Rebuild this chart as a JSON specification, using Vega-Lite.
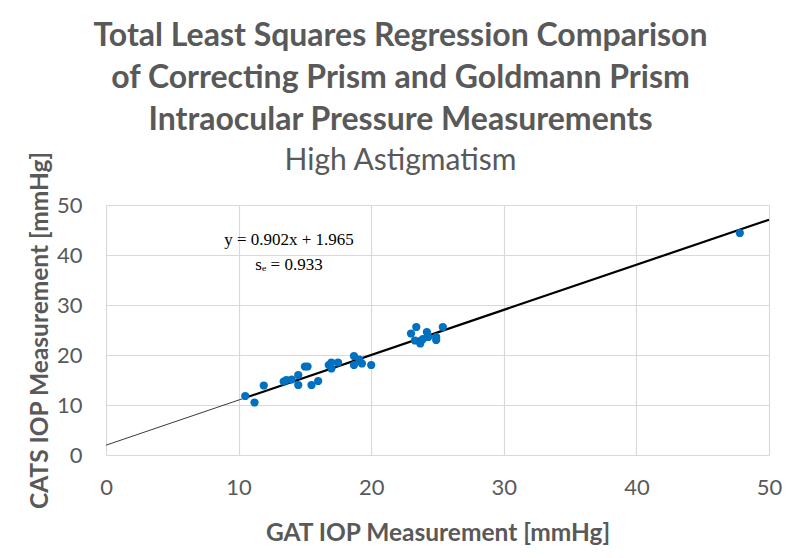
{
  "$schema": "https://vega.github.io/schema/vega-lite/v6.json",
  "autosize": "none",
  "width": 663,
  "height": 250,
  "padding": {"left": 106, "top": 205, "right": 31, "bottom": 103},
  "background": "white",
  "title": {
    "text": ["Total Least Squares Regression Comparison", "of Correcting Prism and Goldmann Prism", "Intraocular Pressure Measurements"],
    "subtitle": "High Astigmatism",
    "anchor": "middle",
    "frame": "group",
    "dx": -37,
    "offset": -26,
    "font": "Lato",
    "fontSize": 32,
    "fontWeight": "bold",
    "color": "#595959",
    "lineHeight": 42,
    "subtitleFont": "Lato",
    "subtitleFontSize": 30,
    "subtitleColor": "#595959",
    "subtitleFontWeight": "normal",
    "subtitlePadding": 9
  },
  "datasets": {
    "points": [
      {"gat": 10.5, "cats": 11.8},
      {"gat": 11.2, "cats": 10.5},
      {"gat": 11.9, "cats": 13.9},
      {"gat": 13.4, "cats": 14.7},
      {"gat": 13.6, "cats": 15.0},
      {"gat": 14.0, "cats": 15.1},
      {"gat": 14.5, "cats": 16.0},
      {"gat": 14.5, "cats": 14.0},
      {"gat": 15.0, "cats": 17.7},
      {"gat": 15.2, "cats": 17.7},
      {"gat": 15.5, "cats": 14.0},
      {"gat": 16.0, "cats": 14.8},
      {"gat": 16.8, "cats": 18.0},
      {"gat": 17.0, "cats": 18.5},
      {"gat": 17.0, "cats": 17.3},
      {"gat": 17.5, "cats": 18.5},
      {"gat": 18.7, "cats": 19.8},
      {"gat": 18.7, "cats": 18.0},
      {"gat": 19.1, "cats": 19.1},
      {"gat": 19.3, "cats": 18.3},
      {"gat": 20.0, "cats": 18.0},
      {"gat": 23.0, "cats": 24.3},
      {"gat": 23.4, "cats": 25.6},
      {"gat": 23.3, "cats": 22.9},
      {"gat": 23.7, "cats": 22.3},
      {"gat": 23.9, "cats": 23.2},
      {"gat": 24.2, "cats": 24.6},
      {"gat": 24.3, "cats": 23.6},
      {"gat": 24.9, "cats": 23.6},
      {"gat": 24.9, "cats": 23.0},
      {"gat": 25.4, "cats": 25.6},
      {"gat": 47.8, "cats": 44.4}
    ],
    "fitExt": [
      {"gat": 0, "cats": 1.965},
      {"gat": 10.5, "cats": 11.436}
    ],
    "fit": [
      {"gat": 10.5, "cats": 11.436},
      {"gat": 50, "cats": 47.065}
    ],
    "labels": [
      {"gat": 13.8, "cats": 43.0, "label": "y = 0.902x + 1.965"},
      {"gat": 13.8, "cats": 38.0, "label": "sₑ = 0.933"}
    ]
  },
  "config": {
    "view": {"stroke": null},
    "axis": {
      "labelFont": "Lato",
      "labelFontSize": 22,
      "labelColor": "#595959",
      "titleFont": "Lato",
      "titleFontSize": 24.5,
      "titleFontWeight": "bold",
      "titleColor": "#595959",
      "gridColor": "#d9d9d9",
      "gridWidth": 1.2,
      "domain": false,
      "ticks": false
    }
  },
  "encoding": {
    "x": {
      "field": "gat",
      "type": "quantitative",
      "scale": {"domain": [0, 50], "nice": false},
      "axis": {"title": "GAT IOP Measurement [mmHg]", "values": [0, 10, 20, 30, 40, 50], "labelPadding": 22, "titlePadding": 23, "labelFlush": false}
    },
    "y": {
      "field": "cats",
      "type": "quantitative",
      "scale": {"domain": [0, 50], "nice": false},
      "axis": {"title": "CATS IOP Measurement [mmHg]", "values": [0, 10, 20, 30, 40, 50], "labelPadding": 24, "titlePadding": 4, "labelFlush": false}
    }
  },
  "layer": [
    {
      "data": {"name": "fitExt"},
      "mark": {"type": "line", "color": "#3a3a3a", "strokeWidth": 1}
    },
    {
      "data": {"name": "fit"},
      "mark": {"type": "line", "color": "#000000", "strokeWidth": 2.2}
    },
    {
      "data": {"name": "points"},
      "mark": {"type": "circle", "color": "#0070C0", "size": 68, "opacity": 1}
    },
    {
      "data": {"name": "labels"},
      "mark": {"type": "text", "font": "Liberation Serif", "fontSize": 17, "color": "#000000", "align": "center", "baseline": "middle"},
      "encoding": {"text": {"field": "label"}}
    }
  ]
}
